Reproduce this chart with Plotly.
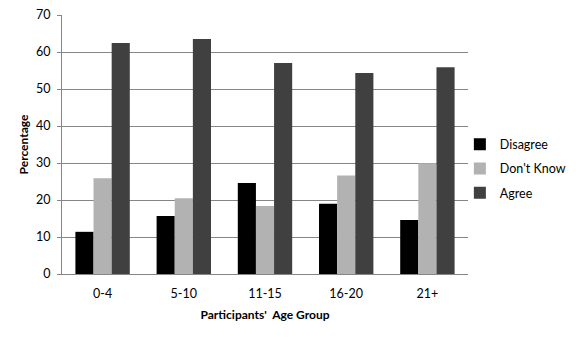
import plotly.graph_objects as go

age_groups = ["0-4", "5-10", "11-15", "16-20", "21+"]
disagree = [11.4, 15.7, 24.6, 19.0, 14.6]
dont_know = [25.9, 20.5, 18.4, 26.6, 29.9]
agree = [62.4, 63.5, 57.0, 54.3, 55.9]

series = [
    ("Disagree", disagree, "#000000"),
    ("Don't Know", dont_know, "#b2b2b2"),
    ("Agree", agree, "#404040"),
]

FONT = "Lato, Carlito, Calibri, sans-serif"

fig = go.Figure()
for name, vals, color in series:
    fig.add_trace(go.Bar(
        x=age_groups, y=vals, name=name,
        marker=dict(color=color, line=dict(width=0)),
        legendgroup=name,
    ))

fig.update_layout(
    width=577, height=337,
    margin=dict(l=62, r=109, t=15, b=63, autoexpand=False),
    paper_bgcolor="white", plot_bgcolor="white",
    barmode="group", bargap=0.33, bargroupgap=0,
    font=dict(family=FONT, size=12.5, color="#000000"),
    showlegend=True,
    legend=dict(
        xref="container", yref="container",
        x=0.797, y=0.5, xanchor="left", yanchor="middle",
        font=dict(family=FONT, size=12.5, color="#000000"),
        tracegroupgap=5, bgcolor="rgba(0,0,0,0)",
    ),
    xaxis=dict(
        showgrid=False, showline=True, linecolor="#868686", linewidth=1,
        ticks="", tickfont=dict(size=12.5), ticklabelstandoff=8,
        title=dict(text="<b>Participants'  Age Group</b>", font=dict(size=12), standoff=10),
    ),
    yaxis=dict(
        range=[0, 70], dtick=10, showgrid=True, gridcolor="#868686", gridwidth=1,
        showline=True, linecolor="#868686", linewidth=1,
        ticks="outside", ticklen=4, tickcolor="#868686",
        tickfont=dict(size=12.5), zeroline=False, ticklabelstandoff=4,
        title=dict(text="<b>Percentage</b>", font=dict(size=12), standoff=4),
    ),
)

fig.write_html("out.html")
